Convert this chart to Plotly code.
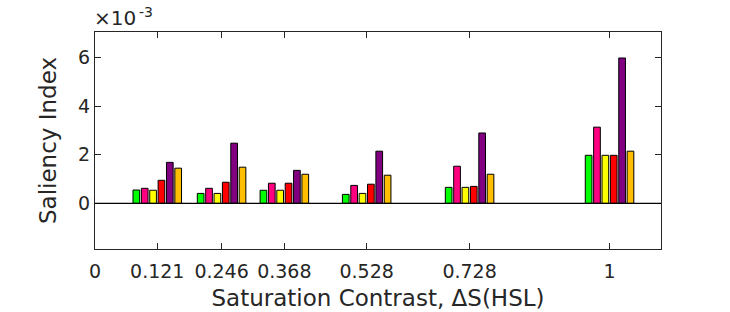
import plotly.graph_objects as go

contrast = [0.121, 0.246, 0.368, 0.528, 0.728, 1.0]
tick_labels = ["0", "0.121", "0.246", "0.368", "0.528", "0.728", "1"]
tick_vals = [0, 0.121, 0.246, 0.368, 0.528, 0.728, 1.0]

# saliency index values, in units of 1e-3
green = [0.55, 0.41, 0.54, 0.37, 0.66, 1.98]
pink = [0.62, 0.62, 0.83, 0.74, 1.53, 3.14]
yellow = [0.54, 0.41, 0.54, 0.41, 0.66, 1.98]
red = [0.95, 0.87, 0.83, 0.79, 0.70, 1.98]
purple = [1.69, 2.48, 1.36, 2.15, 2.90, 5.99]
orange = [1.45, 1.49, 1.20, 1.16, 1.20, 2.15]

series = [
    (green, "#00ff00"),
    (pink, "#ff0080"),
    (yellow, "#ffff00"),
    (red, "#ff0000"),
    (purple, "#800080"),
    (orange, "#ffbf00"),
]

fig = go.Figure()
for vals, col in series:
    fig.add_trace(go.Bar(x=contrast, y=vals, marker=dict(color=col, line=dict(color="black", width=1)),
                         showlegend=False))

axcol = "#262626"
font = "DejaVu Sans, sans-serif"
fig.update_layout(
    width=730, height=312,
    margin=dict(l=95, r=69, t=32, b=63, autoexpand=False),
    paper_bgcolor="white", plot_bgcolor="white",
    barmode="group", bargap=0.2, bargroupgap=0.2,
    font=dict(family=font, color=axcol, size=19),
    xaxis=dict(range=[0, 1.1], tickvals=tick_vals, ticktext=tick_labels, automargin=False,
               ticks="inside", ticklen=6, tickcolor=axcol, showline=True, linecolor=axcol, linewidth=1,
               mirror="allticks", showgrid=False, zeroline=False, ticklabelstandoff=5,
               tickfont=dict(size=19, color=axcol),
               title=dict(text="Saturation Contrast, ΔS(HSL)", font=dict(size=23, color=axcol), standoff=9)),
    yaxis=dict(range=[-1.88, 7.06], tickvals=[0, 2, 4, 6], ticktext=["0", "2", "4", "6"], automargin=False,
               ticks="inside", ticklen=6, tickcolor=axcol, showline=True, linecolor=axcol, linewidth=1,
               mirror="allticks", showgrid=False, zeroline=False,
               tickfont=dict(size=19, color=axcol),
               title=dict(text="Saliency Index", font=dict(size=23, color=axcol), standoff=15)),
    shapes=[dict(type="line", xref="paper", yref="y", x0=0, x1=1, y0=0, y1=0,
                 line=dict(color="black", width=1.2), layer="above")],
    annotations=[
        dict(text="×10", xref="paper", yref="paper", x=0, y=1.0,
             xanchor="left", yanchor="bottom", showarrow=False,
             font=dict(size=20, color=axcol, family=font), xshift=-3, yshift=0),
        dict(text="-3", xref="paper", yref="paper", x=0, y=1.0,
             xanchor="left", yanchor="bottom", showarrow=False,
             font=dict(size=14, color=axcol, family=font), xshift=42, yshift=10),
    ],
)

fig.write_html("out.html", config={"displayModeBar": False},
               post_script="document.body.style.margin='0';document.body.style.overflow='hidden';")
